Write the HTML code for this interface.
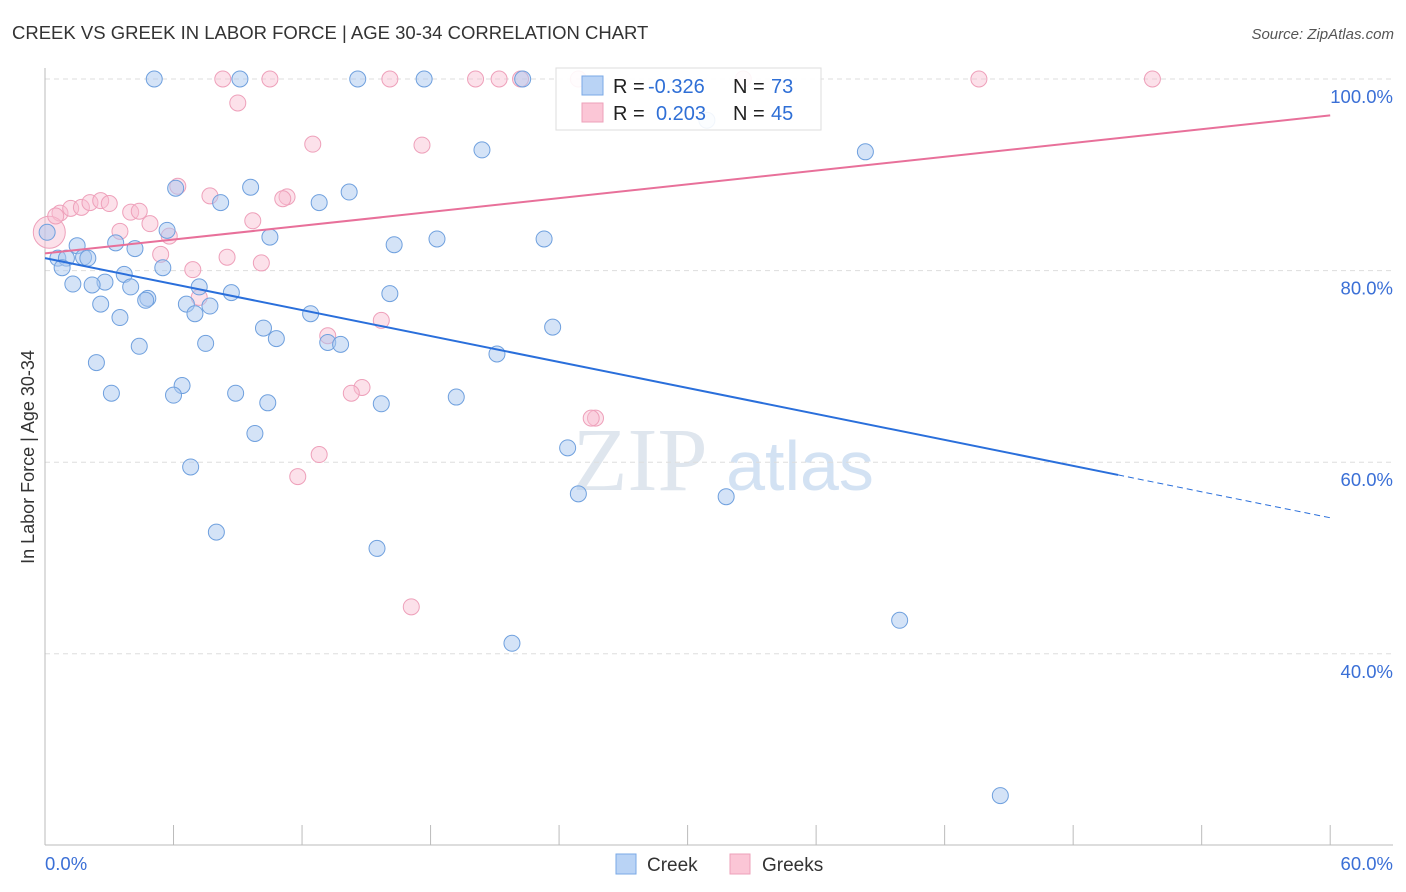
<!DOCTYPE html>
<html><head><meta charset="utf-8"><style>
body{margin:0;background:#fff;font-family:"Liberation Sans",sans-serif;}
svg{display:block}
</style></head><body>
<svg id="c" width="1406" height="892">
<text x="12" y="39" font-size="18.5" fill="#333">CREEK VS GREEK IN LABOR FORCE | AGE 30-34 CORRELATION CHART</text>
<text x="1394" y="39" font-size="15" fill="#555" font-style="italic" text-anchor="end">Source: ZipAtlas.com</text>
<text x="640" y="490" font-size="90" fill="#dfe6ee" font-family="Liberation Serif" text-anchor="middle">ZIP</text>
<text x="800" y="490" font-size="70" fill="#d3e2f3" text-anchor="middle">atlas</text>
<text transform="translate(34,457) rotate(-90)" font-size="18" fill="#333" text-anchor="middle">In Labor Force | Age 30-34</text>
<g id="grid"></g><g id="pts"></g><g id="lines"></g>
<g>
<rect x="556" y="68" width="265" height="62" fill="#fff" fill-opacity="0.9" stroke="#ddd"/>
<rect x="582" y="76" width="21" height="19" fill="#b9d3f5" stroke="#7aa8e6"/>
<rect x="582" y="103" width="21" height="19" fill="#fbc6d6" stroke="#eea0ba"/>
<text x="613" y="93" font-size="20" fill="#222">R = <tspan fill="#2f6fd6" x="648">-0.326</tspan></text>
<text x="733" y="93" font-size="20" fill="#222">N = <tspan fill="#2f6fd6" x="771">73</tspan></text>
<text x="613" y="120" font-size="20" fill="#222">R = <tspan fill="#2f6fd6" x="656">0.203</tspan></text>
<text x="733" y="120" font-size="20" fill="#222">N = <tspan fill="#2f6fd6" x="771">45</tspan></text>
</g>
<g>
<rect x="616" y="854" width="20" height="20" fill="#b9d3f5" stroke="#7aa8e6"/>
<text x="647" y="871" font-size="19" fill="#333">Creek</text>
<rect x="730" y="854" width="20" height="20" fill="#fbc6d6" stroke="#eea0ba"/>
<text x="762" y="871" font-size="19" fill="#333">Greeks</text>
</g>
</svg>
<script>
const blueX=[5.1,9.1,14.6,17.7,22.3,30.9,20.4,38.3,9.6,6.1,14.2,8.2,12.8,5.7,10.5,18.3,23.3,16.3,3.3,1.5,4.2,0.1,0.6,1.0,1.8,2.0,0.8,5.5,3.7,2.8,1.3,2.2,4.0,7.2,8.7,16.1,4.8,4.7,2.6,6.6,7.7,7.0,12.4,3.5,23.7,10.2,10.8,13.2,13.8,4.4,7.5,21.1,2.4,6.4,6.0,3.1,8.9,19.2,10.4,15.7,9.8,24.4,6.8,24.9,31.8,8.0,15.5,39.9,21.8,44.6];
const blueY=[100,100,100,100,100,95.7,92.6,92.4,88.7,88.6,88.2,87.1,87.1,84.2,83.5,83.3,83.3,82.7,82.9,82.6,82.3,84.0,81.3,81.3,81.4,81.3,80.3,80.3,79.6,78.8,78.6,78.5,78.3,78.3,77.7,77.6,77.1,76.9,76.5,76.5,76.3,75.5,75.5,75.1,74.1,74.0,72.9,72.5,72.3,72.1,72.4,71.3,70.4,68.0,67.0,67.2,67.2,66.8,66.2,66.1,63.0,61.5,59.5,56.7,56.4,52.7,51.0,43.5,41.1,25.2];
const pinkX=[8.3,10.5,16.1,20.1,21.2,22.2,24.9,32.6,43.6,51.7,9.0,12.5,17.6,6.2,7.7,11.3,11.1,0.7,1.2,1.7,2.1,2.6,3.0,4.0,4.4,4.9,3.5,5.8,9.7,0.2,5.4,8.5,10.1,6.9,7.2,15.7,13.2,14.8,14.3,25.7,25.5,12.8,11.8,17.1,0.5];
const pinkY=[100,100,100,100,100,100,100,100,100,100,97.5,93.2,93.1,88.8,87.8,87.7,87.5,86.0,86.5,86.6,87.1,87.3,87.0,86.1,86.2,84.9,84.1,83.6,85.2,84.0,81.7,81.4,80.8,80.1,77.2,74.8,73.2,67.8,67.2,64.6,64.6,60.8,58.5,44.9,85.7];
const blueTrend=[81.3,54.2], pinkTrend=[81.8,96.2], blueSolidEnd=50.1;
const yTicks=[100,80,60,40];
const NS="http://www.w3.org/2000/svg";
const sx=v=>45+v*21.42, sy=v=>79+(100-v)*9.58;
function mk(t,a,p){const e=document.createElementNS(NS,t);for(const k in a)e.setAttribute(k,a[k]);p.appendChild(e);return e;}
const g=document.getElementById('grid');
yTicks.forEach(t=>{
 const l=mk('line',{x1:45,x2:1393,y1:sy(t),y2:sy(t),stroke:'#ddd','stroke-dasharray':'5,4'},g);
 
 
 const tx=mk('text',{x:1393,y:sy(t)+24,'font-size':18.5,fill:'#3a6fd6','text-anchor':'end'},g);
 tx.textContent=t.toFixed(1)+'%';
 
 
});
const ax=mk('line',{x1:45,x2:45,y1:68,y2:845,stroke:'#bbb'},g);


const bx=mk('line',{x1:45,x2:1393,y1:845,y2:845,stroke:'#bbb'},g);


for(let i=0;i<=10;i++){const t=mk('line',{x1:sx(i*6),x2:sx(i*6),y1:825,y2:845,stroke:'#bbb'},g);
 
 }
[[0,'0.0%','start',45],[60,'60.0%','end',1393]].forEach(d=>{const t=mk('text',{x:d[3],y:870,'font-size':18.5,fill:'#3a6fd6','text-anchor':d[2]},g);t.textContent=d[1];
 
 });
const P=document.getElementById('pts');
pinkX.forEach((x,i)=>{const c=mk('circle',{cx:sx(x),cy:sy(pinkY[i]),r:i==29?16:8,fill:'#f8bdd0','fill-opacity':0.45,stroke:'#eea0ba'},P);
 
 });
blueX.forEach((x,i)=>{const c=mk('circle',{cx:sx(x),cy:sy(blueY[i]),r:8,fill:'#a9c8f0','fill-opacity':0.5,stroke:'#6fa0de'},P);
 
 });
const L=document.getElementById('lines');
const by=x=>blueTrend[0]+(blueTrend[1]-blueTrend[0])*x/60;
const b1=mk('line',{x1:sx(0),y1:sy(by(0)),x2:sx(blueSolidEnd),y2:sy(by(blueSolidEnd)),stroke:'#2a6fdb','stroke-width':2},L);


const b2=mk('line',{x1:sx(blueSolidEnd),y1:sy(by(blueSolidEnd)),x2:sx(60),y2:sy(by(60)),stroke:'#2a6fdb','stroke-width':1,'stroke-dasharray':'6,4'},L);


const p1=mk('line',{x1:sx(0),y1:sy(pinkTrend[0]),x2:sx(60),y2:sy(pinkTrend[1]),stroke:'#e8709a','stroke-width':2},L);


</script>
</body></html>
